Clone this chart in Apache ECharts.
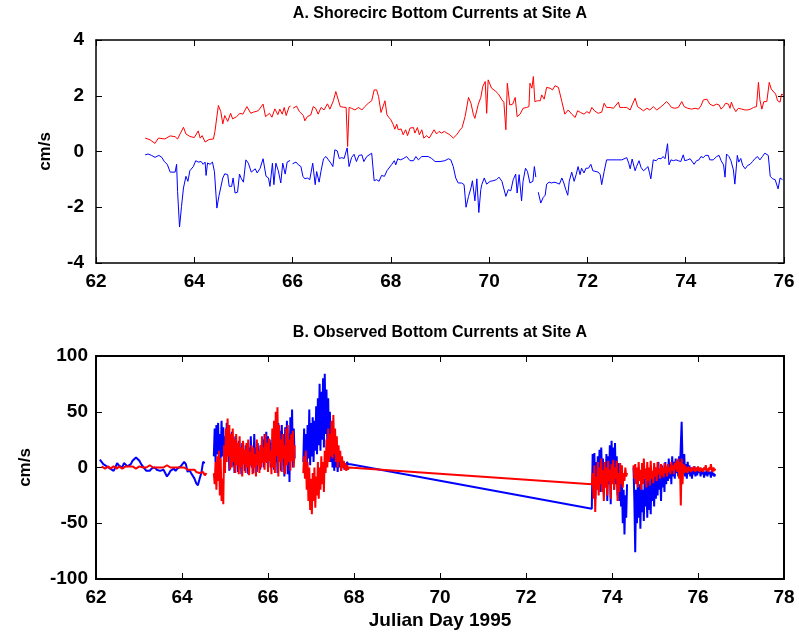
<!DOCTYPE html>
<html>
<head>
<meta charset="utf-8">
<script src="https://cdn.jsdelivr.net/npm/echarts@6/dist/echarts.min.js"></script>
<style>
html,body{margin:0;padding:0;background:#fff;}
#chart{width:799px;height:636px;}
</style>
</head>
<body>
<div id="chart"></div>
<script>
// ---------- Panel A: model (Shorecirc) bottom currents, [julian day, cm/s] ----------
const titleA = 'A. Shorecirc Bottom Currents at Site A';
const titleB = 'B. Observed Bottom Currents at Site A';
const yNameA = 'cm/s';
const yNameB = 'cm/s';
const xNameB = 'Julian Day 1995';
const xTicksA = [62, 76, 2];
const yTicksA = [-4, 4, 2];
const xTicksB = [62, 78, 2];
const yTicksB = [-100, 100, 50];

const topRed = [[63.00,0.48],[63.10,0.42],[63.20,0.29],[63.27,0.48],[63.40,0.45],[63.51,0.56],[63.61,0.53],[63.66,0.45],[63.72,0.66],[63.78,0.87],[63.83,0.63],[63.91,0.54],[64.00,0.50],[64.08,0.74],[64.12,0.48],[64.16,0.57],[64.22,0.34],[64.30,0.43],[64.39,0.45],[64.42,0.72],[64.49,1.65],[64.54,1.43],[64.58,0.99],[64.62,1.29],[64.68,1.08],[64.74,1.37],[64.78,1.17],[64.86,1.25],[64.93,1.37],[64.99,1.34],[65.07,1.61],[65.15,1.37],[65.20,1.41],[65.30,1.46],[65.40,1.70],[65.45,1.25],[65.53,1.37],[65.58,1.23],[65.64,1.53],[65.70,1.32],[65.74,1.52],[65.79,1.34],[65.83,1.58],[65.87,1.29],[65.93,1.61],[65.96,1.63],[65.98,null],[66.01,1.55],[66.08,1.63],[66.14,1.43],[66.22,1.29],[66.25,1.10],[66.30,1.25],[66.37,1.31],[66.42,1.61],[66.47,1.55],[66.52,1.34],[66.58,1.58],[66.64,1.49],[66.71,1.71],[66.76,1.52],[66.83,1.82],[66.88,2.15],[66.92,2.09],[66.97,1.61],[67.03,1.59],[67.09,1.58],[67.12,0.18],[67.15,1.58],[67.20,1.55],[67.27,1.49],[67.34,1.58],[67.41,1.49],[67.47,1.61],[67.54,1.73],[67.61,1.82],[67.66,2.21],[67.71,2.21],[67.75,1.97],[67.80,1.40],[67.83,1.46],[67.88,1.82],[67.92,1.32],[67.96,1.22],[68.00,1.14],[68.05,0.96],[68.08,0.80],[68.12,0.98],[68.15,0.78],[68.21,0.81],[68.25,0.60],[68.30,0.78],[68.34,0.57],[68.39,0.84],[68.46,0.86],[68.49,0.66],[68.54,0.86],[68.58,0.60],[68.63,0.78],[68.67,0.48],[68.73,0.57],[68.78,0.48],[68.83,0.63],[68.88,0.78],[68.93,0.63],[68.98,0.72],[69.03,0.66],[69.09,0.72],[69.14,0.66],[69.20,0.60],[69.27,0.48],[69.34,0.60],[69.41,0.78],[69.45,0.86],[69.51,1.25],[69.58,1.94],[69.63,1.73],[69.68,1.32],[69.71,1.19],[69.78,1.70],[69.83,1.94],[69.87,2.33],[69.92,2.51],[69.95,1.37],[69.98,2.57],[70.05,2.27],[70.12,2.18],[70.19,2.06],[70.26,1.85],[70.30,1.77],[70.34,0.78],[70.37,2.45],[70.42,1.67],[70.48,1.70],[70.53,1.94],[70.57,1.25],[70.63,1.34],[70.69,1.55],[70.76,1.58],[70.81,1.61],[70.83,2.45],[70.87,2.27],[70.90,2.69],[70.93,1.79],[70.98,1.82],[71.04,1.82],[71.07,2.03],[71.12,1.88],[71.17,2.30],[71.24,2.27],[71.29,2.21],[71.34,2.36],[71.41,2.30],[71.48,1.79],[71.54,1.34],[71.61,1.49],[71.68,1.34],[71.75,1.22],[71.80,1.46],[71.86,1.40],[71.93,1.34],[71.99,1.43],[72.04,1.37],[72.09,1.58],[72.15,1.45],[72.22,1.37],[72.29,1.41],[72.34,1.73],[72.39,1.58],[72.46,1.58],[72.53,1.55],[72.57,1.58],[72.63,1.77],[72.66,1.58],[72.73,1.58],[72.80,1.58],[72.87,1.49],[72.91,1.67],[72.97,1.91],[73.02,1.61],[73.07,1.55],[73.14,1.46],[73.21,1.55],[73.27,1.49],[73.34,1.61],[73.41,1.49],[73.48,1.58],[73.54,1.67],[73.61,1.79],[73.66,1.70],[73.71,1.58],[73.78,1.55],[73.85,1.58],[73.92,1.79],[73.97,1.61],[74.04,1.55],[74.12,1.52],[74.19,1.55],[74.26,1.52],[74.31,1.64],[74.36,1.85],[74.43,1.88],[74.49,1.70],[74.56,1.64],[74.63,1.70],[74.68,1.67],[74.72,1.52],[74.77,1.61],[74.81,1.73],[74.87,1.70],[74.90,1.55],[74.93,1.77],[74.97,1.58],[75.02,1.43],[75.07,1.55],[75.14,1.52],[75.21,1.49],[75.26,1.49],[75.32,1.52],[75.38,1.58],[75.44,1.61],[75.48,2.48],[75.51,1.85],[75.55,1.52],[75.59,1.79],[75.65,1.79],[75.70,2.48],[75.74,2.24],[75.78,2.21],[75.83,2.06],[75.87,1.82],[75.92,1.77],[75.95,2.06],[75.98,2.03]];

const topBlue = [[63.00,-0.12],[63.06,-0.09],[63.13,-0.14],[63.20,-0.21],[63.28,-0.14],[63.34,-0.21],[63.39,-0.36],[63.45,-0.46],[63.51,-0.74],[63.55,-0.72],[63.61,-0.74],[63.64,-0.46],[63.66,-1.43],[63.70,-2.71],[63.74,-1.97],[63.78,-1.31],[63.83,-0.89],[63.87,-1.07],[63.91,-0.69],[63.98,-0.54],[64.03,-0.33],[64.08,-0.38],[64.14,-0.36],[64.18,-0.46],[64.22,-0.38],[64.24,-0.86],[64.27,-0.41],[64.32,-0.46],[64.37,-0.38],[64.41,-0.72],[64.46,-2.03],[64.50,-1.61],[64.54,-1.57],[64.58,-0.95],[64.62,-0.80],[64.68,-0.83],[64.71,-1.25],[64.76,-1.25],[64.79,-0.95],[64.83,-1.49],[64.88,-1.46],[64.92,-0.81],[64.96,-0.98],[65.00,-1.10],[65.05,-0.30],[65.10,-0.42],[65.16,-0.74],[65.19,-0.74],[65.24,-0.62],[65.28,-0.77],[65.34,-0.60],[65.40,-0.26],[65.46,-0.89],[65.51,-0.95],[65.54,-1.25],[65.59,-0.42],[65.62,-1.19],[65.66,-0.42],[65.71,-0.69],[65.76,-1.13],[65.80,-0.42],[65.85,-0.81],[65.89,-0.38],[65.95,-0.32],[65.98,null],[66.00,-0.44],[66.07,-0.38],[66.12,-0.48],[66.17,-0.54],[66.21,-0.89],[66.25,-0.98],[66.30,-0.95],[66.35,-1.01],[66.41,-0.42],[66.46,-1.19],[66.49,-0.72],[66.54,-1.10],[66.58,-0.69],[66.63,-0.26],[66.68,-0.18],[66.73,-0.30],[66.78,-0.42],[66.82,-0.54],[66.86,0.06],[66.91,0.02],[66.95,-0.25],[67.00,-0.22],[67.05,-0.25],[67.11,0.13],[67.15,-0.54],[67.20,-0.22],[67.25,-0.10],[67.30,-0.36],[67.35,-0.14],[67.41,-0.12],[67.45,-0.36],[67.51,-0.18],[67.53,-0.12],[67.61,-0.06],[67.66,-1.05],[67.71,-1.01],[67.76,-1.07],[67.81,-0.86],[67.87,-0.89],[67.92,-0.69],[67.96,-0.66],[68.02,-0.46],[68.07,-0.33],[68.10,-0.48],[68.14,-0.26],[68.19,-0.30],[68.25,-0.26],[68.32,-0.18],[68.39,-0.33],[68.46,-0.33],[68.51,-0.18],[68.56,-0.30],[68.63,-0.18],[68.67,-0.12],[68.76,-0.18],[68.83,-0.25],[68.90,-0.36],[69.00,-0.36],[69.10,-0.33],[69.17,-0.26],[69.22,-0.30],[69.27,-0.54],[69.32,-0.95],[69.37,-1.13],[69.44,-1.13],[69.49,-1.19],[69.53,-2.00],[69.58,-1.61],[69.63,-1.31],[69.66,-1.05],[69.71,-1.77],[69.75,-0.98],[69.79,-2.19],[69.83,-1.37],[69.85,-1.19],[69.90,-0.95],[69.95,-1.17],[70.02,-1.07],[70.08,-1.05],[70.15,-1.01],[70.20,-0.92],[70.26,-1.07],[70.30,-1.10],[70.34,-1.61],[70.39,-1.37],[70.44,-1.41],[70.49,-1.01],[70.54,-0.81],[70.57,-1.49],[70.61,-0.83],[70.66,-1.77],[70.69,-1.07],[70.74,-0.60],[70.78,-0.72],[70.83,-1.13],[70.89,-1.07],[70.92,-0.54],[70.95,-0.92],[70.97,null],[71.00,-1.46],[71.05,-1.85],[71.10,-1.65],[71.14,-1.57],[71.17,-1.17],[71.22,-1.10],[71.27,-1.13],[71.32,-1.10],[71.38,-1.13],[71.43,-1.17],[71.48,-0.95],[71.52,-1.13],[71.56,-1.37],[71.60,-1.57],[71.63,-1.07],[71.68,-0.74],[71.73,-1.07],[71.77,-0.83],[71.81,-0.54],[71.85,-0.83],[71.88,-0.60],[71.93,-0.77],[71.97,-0.60],[72.02,-0.60],[72.07,-0.46],[72.11,-0.69],[72.15,-0.62],[72.22,-0.74],[72.26,-0.83],[72.29,-1.19],[72.34,-0.72],[72.39,-0.30],[72.50,-0.30],[72.60,-0.30],[72.70,-0.30],[72.80,-0.22],[72.84,-0.42],[72.87,-0.62],[72.91,-0.27],[72.97,-0.69],[73.00,-0.54],[73.05,-0.33],[73.09,-0.57],[73.14,-0.69],[73.19,-0.62],[73.23,-0.54],[73.26,-0.74],[73.29,-0.98],[73.34,-0.30],[73.40,-0.33],[73.44,-0.25],[73.50,-0.26],[73.54,-0.18],[73.58,-0.26],[73.63,0.28],[73.66,-0.48],[73.70,-0.30],[73.75,-0.33],[73.80,-0.30],[73.85,-0.33],[73.90,-0.36],[73.95,-0.12],[73.98,-0.33],[74.04,-0.30],[74.09,-0.26],[74.13,-0.25],[74.17,-0.46],[74.22,-0.33],[74.27,-0.30],[74.31,-0.18],[74.36,-0.22],[74.40,-0.14],[74.46,-0.14],[74.49,-0.30],[74.56,-0.30],[74.63,-0.18],[74.68,-0.14],[74.72,-0.33],[74.77,-0.48],[74.80,-0.92],[74.83,-0.09],[74.88,-0.18],[74.92,-0.33],[74.97,-0.66],[75.00,-1.17],[75.05,-0.14],[75.08,-0.38],[75.12,-0.25],[75.16,-0.50],[75.21,-0.62],[75.26,-0.50],[75.31,-0.46],[75.36,-0.36],[75.41,-0.25],[75.46,-0.18],[75.51,-0.30],[75.56,-0.18],[75.61,-0.06],[75.65,-0.02],[75.68,-0.14],[75.72,-0.89],[75.77,-0.98],[75.82,-1.01],[75.85,-1.05],[75.88,-1.34],[75.92,-0.95],[75.97,-1.01]];

// ---------- Panel B: observed bottom currents, regularly sampled segments ----------
// each segment: start day, sample interval (days), values (cm/s)
const obsBlue1Start = 62.09, obsBlue1Step = 0.04;
const obsBlue1 = [7,5,3,4,1,2,-1,-2,-3,0,4,2,3,0,4,3,1,2,3,6,7,9,10,6,3,1,-1,-3,-2,-3,-1,-2,0,-2,-1,-3,-4,-2,-5,-8,-6,-3,-2,-1,-3,-1,0,1,2,5,3,-4,-2,-5,-4,-10,-14,-16,-10,-5,5,4];
const obsRed1Start = 62.13, obsRed1Step = 0.04;
const obsRed1 = [1,0,-1,0,1,-1,0,1,0,-1,1,0,-1,0,1,2,1,0,1,0,-1,0,1,1,0,-1,0,1,2,1,0,1,0,-1,0,1,0,1,2,1,0,-1,0,1,0,-1,0,1,0,-1,-2,-1,-2,-3,-2,-4,-3,-5,-6,-4,-7,-5];

const obsSeg2Start = 64.74, obsSeg2Step = 0.02;
const obsBlue2 = [10,35,5,38,12,40,2,30,8,42,10,36,0,28,5,40,12,30,-3,25,6,32,2,22,-5,28,8,20,-4,24,3,18,-6,22,5,15,-3,20,4,12,-6,18,2,28,0,15,-5,30,6,18,-4,22,3,15,-2,20,5,25,0,30,8,32,4,28,10,25,0,22,6,30,-2,35,5,28,-5,40,8,33,-3,38,10,30,-8,36,5,42,-6,30,-13,45,10,52,0,35,8];
const obsRed2 = [-5,-15,5,-20,10,-12,15,-25,8,-30,-10,-33,20,-5,35,5,44,10,38,-2,30,0,35,5,25,-5,30,2,22,-6,28,0,18,-8,24,3,16,-5,22,0,25,-7,14,2,20,-6,18,0,12,-8,25,2,15,-5,20,0,28,4,18,-2,30,5,22,-4,26,6,15,-6,35,0,42,-5,50,10,54,-8,38,5,25,-4,30,8,20,-6,35,2,38,5,25,-3,30,6,33,0,20];

const obsSeg3Start = 66.82, obsSeg3Step = 0.02;
const obsBlue3 = [5,35,0,30,-5,38,8,52,2,40,10,45,5,42,15,55,12,62,20,75,15,68,25,80,18,84,30,70,20,62,10,50,5,40,0,30,-3,22,0,15,-4,12,0,8,-3,6,0,5,-2,4,2,5,3,4,3,3];
const obsRed3 = [-5,10,-10,15,-20,5,-30,0,-38,-10,-42,-5,-30,0,-36,-8,-25,5,-28,0,-20,10,-15,5,-22,15,-5,25,0,35,5,30,10,42,8,47,12,35,5,28,0,20,5,15,-3,10,0,6,-2,4,-3,2,-2,0,-1,-1];

const obsSeg4Start = 73.53, obsSeg4Step = 0.02;
const obsBlue4 = [-37,12,-15,13,-28,5,-20,10,-12,16,-22,18,-10,8,-25,5,-18,12,-30,10,-15,20,-33,24,-10,18,-20,22,-15,10,-25,4,-30,2,-35,-10,-50,-20,-60,-25,-45,-15];
const obsRed4 = [-15,-5,-28,2,-40,-8,-20,5,-25,0,-15,8,-22,-2,-30,5,-18,0,-25,6,-12,-2,-28,3,-15,7,-20,0,-10,6,-30,-5,-22,4,-15,2,-18,-5,-12,0,-8,-5];

const obsSeg5Start = 74.50, obsSeg5Step = 0.02;
const obsBlue5 = [0,-30,-76,-20,-50,-10,-45,-15,-55,-12,-40,-20,-48,-10,-35,-15,-45,-8,-38,-12,-42,-5,-30,-10,-35,0,-28,-8,-25,5,-20,-5,-30,2,-18,-3,-22,5,-15,0,-12,8,-10,3,-15,10,-8,5,-10,8,-5,6,-8,10,-2,20,41,5,-5,12,-8,3,-10,5,-6,2,-8,0,-10,-2,-6,1,-8,-3,-7,0,-5,-2,-8,-3,-6,-1,-9,-4,-7,-2,-8,-3,-6,-4,-9,-3,-7,-5,-8,-6];
const obsRed5 = [2,-10,3,-15,0,-18,5,-12,-2,-20,4,-15,8,-10,-1,-18,5,-12,0,-16,6,-10,-3,-14,4,-8,0,-12,5,-6,-1,-10,3,-7,0,-9,4,-5,1,-8,3,-4,0,-6,5,-3,2,-6,4,-2,6,-4,8,-10,5,-34,8,-15,3,-5,2,-4,0,-5,1,-3,-1,-4,0,-3,1,-2,-4,0,-3,1,-2,-4,0,-3,-1,-4,0,-2,2,-3,-1,-4,0,-2,3,-2,-4,0,-3,-1];

// sample times for a regularly sampled record
function samples(start, step, vals) {
  return vals.map(function (v, i) { return [+(start + i * step).toFixed(3), v]; });
}
function gapAfter(arr) { return [[arr[arr.length - 1][0] + 0.01, null]]; }

const b1 = samples(obsBlue1Start, obsBlue1Step, obsBlue1);
const b2 = samples(obsSeg2Start, obsSeg2Step, obsBlue2);
const b3 = samples(obsSeg3Start, obsSeg3Step, obsBlue3);
const b4 = samples(obsSeg4Start, obsSeg4Step, obsBlue4);
const b5 = samples(obsSeg5Start, obsSeg5Step, obsBlue5);
const r1 = samples(obsRed1Start, obsRed1Step, obsRed1);
const r2 = samples(obsSeg2Start, obsSeg2Step, obsRed2);
const r3 = samples(obsSeg3Start, obsSeg3Step, obsRed3);
const r4 = samples(obsSeg4Start, obsSeg4Step, obsRed4);
const r5 = samples(obsSeg5Start, obsSeg5Step, obsRed5);

// gaps between segments (segments 3 and 4 are joined by a straight line, as in the source)
const bottomBlue = [].concat(b1, gapAfter(b1), b2, gapAfter(b2), b3, b4, gapAfter(b4), b5);
const bottomRed = [].concat(r1, gapAfter(r1), r2, gapAfter(r2), r3, r4, gapAfter(r4), r5);

const FONT = '"Liberation Sans", Arial, Helvetica, sans-serif';
const tickLabel = { color: '#000', fontFamily: FONT, fontWeight: 'bold', fontSize: 19 };

function xAx(grid, rng, pos, show, lw) {
  return {
    type: 'value', gridIndex: grid, min: rng[0], max: rng[1], interval: rng[2], position: pos,
    axisLine: { show: true, onZero: false, lineStyle: { color: '#000', width: lw } },
    axisTick: { show: true, inside: true, length: 6, lineStyle: { color: '#000', width: 1 } },
    axisLabel: Object.assign({ show: show, margin: 9 }, tickLabel),
    splitLine: { show: false }
  };
}
function yAx(grid, rng, pos, show, lw, margin) {
  return {
    type: 'value', gridIndex: grid, min: rng[0], max: rng[1], interval: rng[2], position: pos,
    axisLine: { show: true, onZero: false, lineStyle: { color: '#000', width: lw } },
    axisTick: { show: true, inside: true, length: 6, lineStyle: { color: '#000', width: 1 } },
    axisLabel: Object.assign({ show: show, margin: margin }, tickLabel),
    splitLine: { show: false }
  };
}

const xA = xAx(0, xTicksA, 'bottom', true, 1.5);
const xAtop = xAx(0, xTicksA, 'top', false, 1.5);
const xB = xAx(1, xTicksB, 'bottom', true, 2);
xB.name = xNameB; xB.nameLocation = 'middle'; xB.nameGap = 32;
xB.nameTextStyle = { color: '#000', fontFamily: FONT, fontWeight: 'bold', fontSize: 19 };
const xBtop = xAx(1, xTicksB, 'top', false, 2);

const yA = yAx(0, yTicksA, 'left', true, 1.5, 12);
yA.name = yNameA; yA.nameLocation = 'middle'; yA.nameGap = 42;
yA.nameTextStyle = { color: '#000', fontFamily: FONT, fontWeight: 'bold', fontSize: 17 };
const yAright = yAx(0, yTicksA, 'right', false, 1.5, 12);
const yB = yAx(1, yTicksB, 'left', true, 2, 8);
yB.name = yNameB; yB.nameLocation = 'middle'; yB.nameGap = 62;
yB.nameTextStyle = { color: '#000', fontFamily: FONT, fontWeight: 'bold', fontSize: 17 };
const yBright = yAx(1, yTicksB, 'right', false, 2, 8);

const chart = echarts.init(document.getElementById('chart'), null, { renderer: 'canvas' });
chart.setOption({
  backgroundColor: '#fff',
  animation: false,
  grid: [
    { left: 96, top: 40, width: 688, height: 223 },
    { left: 96, top: 356, width: 688, height: 223 }
  ],
  graphic: [
    { type: 'text', x: 440, y: 14, style: { text: titleA, fill: '#000', font: 'bold 16px ' + FONT, textAlign: 'center', textVerticalAlign: 'middle' } },
    { type: 'text', x: 440, y: 333, style: { text: titleB, fill: '#000', font: 'bold 16px ' + FONT, textAlign: 'center', textVerticalAlign: 'middle' } }
  ],
  xAxis: [xA, xAtop, xB, xBtop],
  yAxis: [yA, yAright, yB, yBright],
  series: [
    { type: 'line', xAxisIndex: 0, yAxisIndex: 0, data: topRed, showSymbol: false, lineStyle: { color: '#ff0000', width: 1 }, itemStyle: { color: '#ff0000' }, connectNulls: false },
    { type: 'line', xAxisIndex: 0, yAxisIndex: 0, data: topBlue, showSymbol: false, lineStyle: { color: '#0000ff', width: 1 }, itemStyle: { color: '#0000ff' }, connectNulls: false },
    { type: 'line', xAxisIndex: 2, yAxisIndex: 2, data: bottomBlue, showSymbol: false, lineStyle: { color: '#0000ff', width: 2 }, itemStyle: { color: '#0000ff' }, connectNulls: false },
    { type: 'line', xAxisIndex: 2, yAxisIndex: 2, data: bottomRed, showSymbol: false, lineStyle: { color: '#ff0000', width: 2 }, itemStyle: { color: '#ff0000' }, connectNulls: false }
  ]
});
</script>
</body>
</html>
